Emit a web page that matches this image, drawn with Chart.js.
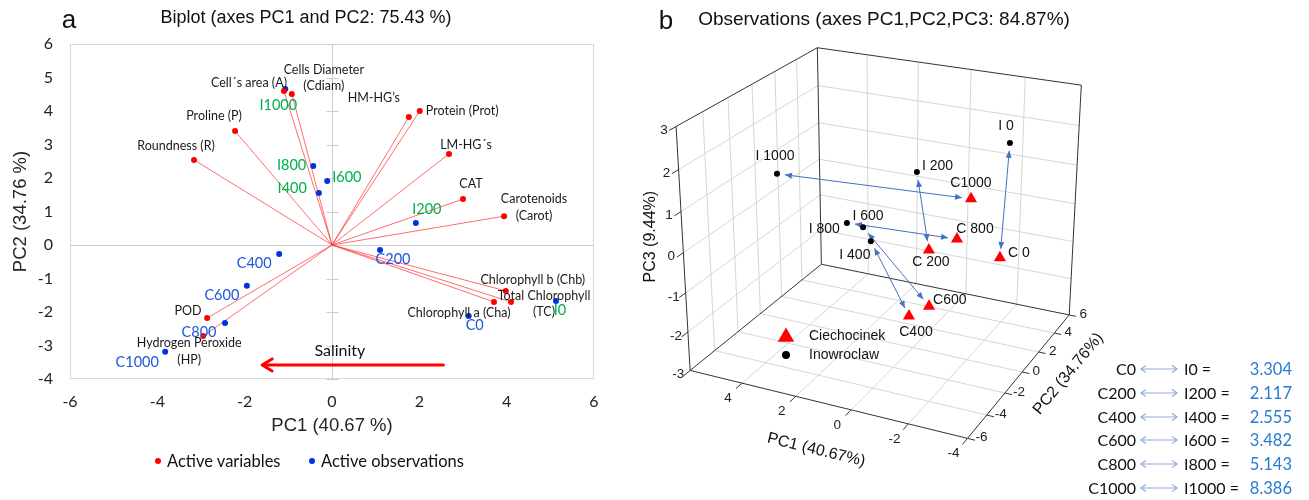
<!DOCTYPE html>
<html>
<head>
<meta charset="utf-8">
<script src="https://cdn.jsdelivr.net/npm/chart.js@4.4.1/dist/chart.umd.min.js"></script>
<style>
  html, body { margin: 0; padding: 0; background: #fff; }
  #page { position: relative; width: 1309px; height: 500px; overflow: hidden; font-family: Lato, 'Noto Sans', sans-serif; color: #111; }
  .abs { position: absolute; white-space: nowrap; line-height: 1; }
  .c { transform: translate(-50%, -50%); }
  .lm { transform: translate(0, -50%); }
  .rm { transform: translate(-100%, -50%); }
  .dot { position: absolute; width: 6px; height: 6px; border-radius: 50%; transform: translate(-50%, -50%); }
</style>
</head>
<body>
<div id="page">
  <div class="abs" style="left:0;top:0;width:640px;height:500px"><canvas id="biplot"></canvas></div>
  <div class="abs" style="left:640px;top:0;width:669px;height:500px"><canvas id="obs3d"></canvas></div>

  <div class="abs c" style="left:69px;top:19px;font:26px 'Liberation Sans',Arial,sans-serif">a</div>
  <div class="abs c" style="left:306px;top:17px;font:18px 'Liberation Sans',Arial,sans-serif">Biplot (axes PC1 and PC2: 75.43 %)</div>
  <div class="abs c" style="left:666px;top:20px;font:26px 'Liberation Sans',Arial,sans-serif">b</div>
  <div class="abs c" style="left:884px;top:19px;font:19px 'Liberation Sans',Arial,sans-serif">Observations (axes PC1,PC2,PC3: 84.87%)</div>

  <div id="legendA" style="font-size:16.5px"></div>
  <div id="dist" style="font-size:16px"></div>
</div>

<script>
// ---------- panel a : biplot PC1 / PC2
const varNames = ['Cell´s area (A)', 'Cells Diameter\n(Cdiam)', 'Proline (P)', 'Roundness (R)', 'HM-HG’s',
  'Protein (Prot)', 'LM-HG´s', 'CAT', 'Carotenoids\n(Carot)', 'Chlorophyll b (Chb)',
  'Total Chlorophyll\n(TC)', 'Chlorophyll a (Cha)', 'POD', 'Hydrogen Peroxide\n(HP)'];
const varPC1 = [-1.10, -0.92, -2.22, -3.16, 1.76, 2.01, 2.68, 3.00, 3.94, 3.98, 4.10, 3.71, -2.86, -2.95];
const varPC2 = [4.60, 4.51, 3.40, 2.54, 3.82, 4.00, 2.72, 1.37, 0.86, -1.37, -1.70, -1.70, -2.18, -2.72];

const obsNames = ['C0', 'C200', 'C400', 'C600', 'C800', 'C1000', 'I0', 'I200', 'I400', 'I600', 'I800', 'I1000'];
const obsPC1 = [3.13, 1.10, -1.21, -1.95, -2.45, -3.82, 5.13, 1.92, -0.30, -0.11, -0.43, -1.07];
const obsPC2 = [-2.12, -0.15, -0.27, -1.22, -2.33, -3.19, -1.67, 0.66, 1.55, 1.91, 2.36, 4.66];

const salinityPC1 = [2.55, -1.60];   // arrow tail -> head
const salinityPC2 = -3.58;

// ---------- panel b : observations PC1 / PC2 / PC3
const pc1Range = [-4, 6];
const pc2Range = [-6, 6];
const pc3Range = [-3, 3];
const pc1TickLabels = [4, 2, 0, -2, -4];
const pc2TickLabels = [-6, -4, -2, 0, 2, 4, 6];
const pc3TickLabels = [-3, -2, -1, 0, 1, 2, 3];

const ciechNames = ['C 0', 'C 200', 'C400', 'C600', 'C 800', 'C1000'];
const ciechPC1 = [-3.08, -0.56, 0.15, -0.59, -1.56, -2.02];
const ciechPC2 = [0, 0, 0, 0, 0, 0];
const ciechPC3 = [-0.22, -0.37, -2.18, -1.81, 0.04, 1.09];

const inowNames = ['I 0', 'I 200', 'I 400', 'I 600', 'I 800', 'I 1000'];
const inowPC1 = [-3.29, -0.10, 1.58, 1.87, 2.48, 5.14];
const inowPC2 = [0, 0, 0, 0, 0, 0];
const inowPC3 = [2.57, 1.51, -0.43, -0.11, -0.08, 0.85];

const pairC = ['C0', 'C200', 'C400', 'C600', 'C800', 'C1000'];
const pairI = ['I0', 'I200', 'I400', 'I600', 'I800', 'I1000'];
const pairDistance = [3.304, 2.117, 2.555, 3.482, 5.143, 8.386];

// ---------- styles
const RED = '#FF0000', BLUE = '#0033E0', GREEN = '#00B050', CBLUE = '#1F56E0';

// [align, dx, dy] in pixels from the point
const varLabelPos = {
  'Cell´s area (A)': ['right', 3, -8], 'Cells Diameter\n(Cdiam)': ['center', 32, -24],
  'Proline (P)': ['center', -21, -15], 'Roundness (R)': ['center', -18, -14],
  'HM-HG’s': ['center', -35, -19], 'Protein (Prot)': ['left', 6, 0],
  'LM-HG´s': ['center', 17, -9], 'CAT': ['center', 8, -15],
  'Carotenoids\n(Carot)': ['center', 30, -17], 'Chlorophyll b (Chb)': ['center', 27, -11],
  'Total Chlorophyll\n(TC)': ['center', 33, -6], 'Chlorophyll a (Cha)': ['center', -35, 11],
  'POD': ['center', -19, -7], 'Hydrogen Peroxide\n(HP)': ['center', -14, 7]
};
const obsLabelPos = {
  C0: ['center', 6, 9], C200: ['center', 13, 9], C400: ['center', -25, 9], C600: ['center', -25, 9],
  C800: ['center', -26, 9], C1000: ['center', -28, 10], I0: ['center', 4, 9], I200: ['center', 11, -14],
  I400: ['right', -12, -5], I600: ['left', 5, -4], I800: ['right', -7, -1], I1000: ['center', -7, 16]
};
const label3dPos = {
  'I 0': ['center', -4, -17], 'I 200': ['left', 5, -6], 'I 400': ['center', -16, 14],
  'I 600': ['center', 5, -11], 'I 800': ['right', -7, 6], 'I 1000': ['center', -2, -18],
  'C 0': ['left', 8, -5], 'C 200': ['center', 2, 12], 'C400': ['center', 7, 16],
  'C600': ['left', 4, -6], 'C 800': ['center', 18, -10], 'C1000': ['center', 0, -16]
};

function drawLabel(ctx, text, x, y, align, lh) {
  ctx.textAlign = align;
  ctx.textBaseline = 'middle';
  text.split('\n').forEach((t, k) => ctx.fillText(t, x, y + k * lh));
}
function seg(ctx, a, b) {
  ctx.beginPath(); ctx.moveTo(a[0], a[1]); ctx.lineTo(b[0], b[1]); ctx.stroke();
}

// ---------- panel a plugin
const biplotDecor = {
  id: 'biplotDecor',
  beforeDatasetsDraw(chart) {
    const { ctx, chartArea: a, scales: { x, y } } = chart;
    ctx.save();
    ctx.lineWidth = 1;
    ctx.strokeStyle = '#D9D9D9';
    ctx.strokeRect(a.left + 0.5, a.top + 0.5, a.width - 1, a.height - 1);
    const x0 = Math.round(x.getPixelForValue(0)) + 0.5;
    const y0 = Math.round(y.getPixelForValue(0)) + 0.5;
    ctx.strokeStyle = '#CCCCCC';
    seg(ctx, [a.left, y0], [a.right, y0]);
    seg(ctx, [x0, a.top], [x0, a.bottom]);
    for (let v = y.min; v <= y.max; v++) {
      const py = Math.round(y.getPixelForValue(v)) + 0.5;
      seg(ctx, [x0 - 6, py], [x0 + 6, py]);
    }
    // variable vectors
    ctx.strokeStyle = 'rgba(255,60,60,0.75)';
    varPC1.forEach((v, i) => seg(ctx, [x.getPixelForValue(0), y.getPixelForValue(0)],
      [x.getPixelForValue(v), y.getPixelForValue(varPC2[i])]));
    ctx.restore();
  },
  afterDatasetsDraw(chart) {
    const { ctx, scales: { x, y } } = chart;
    ctx.save();
    // salinity arrow
    const ya = y.getPixelForValue(salinityPC2);
    const xt = x.getPixelForValue(salinityPC1[0]), xh = x.getPixelForValue(salinityPC1[1]);
    ctx.strokeStyle = RED; ctx.lineWidth = 3; ctx.lineCap = 'round'; ctx.lineJoin = 'round';
    seg(ctx, [xt, ya], [xh + 2, ya]);
    ctx.beginPath(); ctx.moveTo(xh + 10, ya - 6); ctx.lineTo(xh, ya); ctx.lineTo(xh + 10, ya + 6); ctx.stroke();
    ctx.fillStyle = '#111'; ctx.font = '16px Lato';
    drawLabel(ctx, 'Salinity', x.getPixelForValue(0.18), y.getPixelForValue(-3.16), 'center', 16);

    ctx.font = '12.5px Lato'; ctx.fillStyle = '#1a1a1a';
    chart.getDatasetMeta(0).data.forEach((pt, i) => {
      const [al, dx, dy] = varLabelPos[varNames[i]];
      drawLabel(ctx, varNames[i], pt.x + dx, pt.y + dy, al, 16.5);
    });
    ctx.font = '14.5px Lato';
    chart.getDatasetMeta(1).data.forEach((pt, i) => {
      const n = obsNames[i];
      const [al, dx, dy] = obsLabelPos[n];
      ctx.fillStyle = n[0] === 'I' ? GREEN : CBLUE;
      drawLabel(ctx, n, pt.x + dx, pt.y + dy, al, 16);
    });
    ctx.restore();
  }
};

new Chart(document.getElementById('biplot'), {
  type: 'scatter',
  data: {
    datasets: [
      { label: 'Active variables', data: varPC1.map((v, i) => ({ x: v, y: varPC2[i] })),
        backgroundColor: RED, borderColor: RED, pointRadius: 3, pointBorderWidth: 0 },
      { label: 'Active observations', data: obsPC1.map((v, i) => ({ x: v, y: obsPC2[i] })),
        backgroundColor: BLUE, borderColor: BLUE, pointRadius: 3, pointBorderWidth: 0 }
    ]
  },
  options: {
    responsive: true, maintainAspectRatio: false, animation: false,
    layout: { padding: { left: 0, top: 44, right: 46, bottom: 0 }, autoPadding: false },
    plugins: { legend: { display: false }, tooltip: { enabled: false } },
    scales: {
      x: {
        type: 'linear', min: -6, max: 6,
        ticks: { stepSize: 2, padding: 13, color: '#222', font: { family: 'Lato', size: 16 } },
        grid: { display: false, drawTicks: false }, border: { display: false },
        title: { display: true, text: 'PC1 (40.67 %)', color: '#262626',
          font: { family: 'Liberation Sans', size: 18.5 }, padding: { top: 0, bottom: 63 } },
        afterFit(s) { s.height = 121; }
      },
      y: {
        type: 'linear', min: -4, max: 6,
        ticks: { stepSize: 1, padding: 17, color: '#222', font: { family: 'Lato', size: 16 } },
        grid: { display: false, drawTicks: false }, border: { display: false },
        title: { display: true, text: 'PC2 (34.76 %)', color: '#262626',
          font: { family: 'Liberation Sans', size: 18.5 }, padding: { top: 10, bottom: 0 } },
        afterFit(s) { s.width = 70; }
      }
    }
  },
  plugins: [biplotDecor]
});

// ---------- panel b : perspective view of the PC1/PC2/PC3 box
const W3 = 669, H3 = 500;
const view = { azim: -25.6, elev: 23.4, dist: 11, aspect: [1.07, 1, 0.92], cx: 246.4, cy: 227.3, k: 140 };

function project(p1, p2, p3) {
  const th = view.azim * Math.PI / 180, ph = view.elev * Math.PI / 180;
  const xw = -(p1 - (pc1Range[0] + pc1Range[1]) / 2) / ((pc1Range[1] - pc1Range[0]) / 2) * view.aspect[0];
  const yw = (p2 - (pc2Range[0] + pc2Range[1]) / 2) / ((pc2Range[1] - pc2Range[0]) / 2) * view.aspect[1];
  const zw = (p3 - (pc3Range[0] + pc3Range[1]) / 2) / ((pc3Range[1] - pc3Range[0]) / 2) * view.aspect[2];
  const xr = xw * Math.cos(th) - yw * Math.sin(th);
  const yr = xw * Math.sin(th) + yw * Math.cos(th);
  const up = zw * Math.cos(ph) + yr * Math.sin(ph);
  const d = yr * Math.cos(ph) - zw * Math.sin(ph);
  const s = view.dist / (view.dist + d);
  return { x: xr * s, y: up * s };
}

function between(r, step) {
  const out = [];
  for (let v = r[0] + step; v < r[1] - 1e-9; v += step) out.push(v);
  return out;
}

function arrowHead(ctx, tip, ux, uy) {
  const len = 7, w = 3;
  ctx.beginPath();
  ctx.moveTo(tip[0], tip[1]);
  ctx.lineTo(tip[0] - ux * len - uy * w, tip[1] - uy * len + ux * w);
  ctx.lineTo(tip[0] - ux * len + uy * w, tip[1] - uy * len - ux * w);
  ctx.closePath(); ctx.fill();
}

function triangle(ctx, x, y, r) {
  ctx.beginPath();
  for (let k = 0; k < 3; k++) {
    const a = k * 2 * Math.PI / 3;
    const px = x + Math.sin(a) * r, py = y - Math.cos(a) * r;
    k ? ctx.lineTo(px, py) : ctx.moveTo(px, py);
  }
  ctx.closePath(); ctx.fill();
}

const box3d = {
  id: 'box3d',
  beforeDatasetsDraw(chart) {
    const { ctx, scales: { x, y } } = chart;
    const P = (a, b, c) => { const p = project(a, b, c); return [x.getPixelForValue(p.x), y.getPixelForValue(p.y)]; };
    const [a0, a1] = pc1Range, [b0, b1] = pc2Range, [c0, c1] = pc3Range;
    ctx.save();
    ctx.lineWidth = 1;
    // grid: floor (PC3 min), left wall (PC1 max), back wall (PC2 max)
    ctx.strokeStyle = '#D6D6D6';
    between(pc1Range, 2).forEach(t => { seg(ctx, P(t, b0, c0), P(t, b1, c0)); seg(ctx, P(t, b1, c0), P(t, b1, c1)); });
    between(pc2Range, 2).forEach(t => { seg(ctx, P(a0, t, c0), P(a1, t, c0)); seg(ctx, P(a1, t, c0), P(a1, t, c1)); });
    between(pc3Range, 1).forEach(t => { seg(ctx, P(a1, b0, t), P(a1, b1, t)); seg(ctx, P(a1, b1, t), P(a0, b1, t)); });
    // box edges
    ctx.strokeStyle = '#333';
    [[P(a1, b0, c0), P(a0, b0, c0)], [P(a0, b0, c0), P(a0, b1, c0)], [P(a0, b1, c0), P(a1, b1, c0)],
     [P(a1, b1, c0), P(a1, b0, c0)], [P(a1, b0, c0), P(a1, b0, c1)], [P(a1, b0, c1), P(a1, b1, c1)],
     [P(a1, b1, c1), P(a1, b1, c0)], [P(a1, b1, c1), P(a0, b1, c1)], [P(a0, b1, c1), P(a0, b1, c0)]]
      .forEach(e => seg(ctx, e[0], e[1]));
    // ticks and tick labels
    ctx.fillStyle = '#222'; ctx.font = '13.5px "Liberation Sans", Arial';
    pc1TickLabels.forEach(t => {
      const p = P(t, b0, c0); seg(ctx, p, P(t, b0 - 0.5, c0));
      drawLabel(ctx, String(t), p[0] - 14, p[1] + 15, 'center', 14);
    });
    pc2TickLabels.forEach(t => {
      const p = P(a0, t, c0); seg(ctx, p, P(a0 - 0.25, t, c0));
      drawLabel(ctx, String(t), p[0] + 14, p[1] - 1, 'center', 14);
    });
    pc3TickLabels.forEach(t => {
      const p = P(a1, b0, t); seg(ctx, p, P(a1, b0 - 0.5, t));
      drawLabel(ctx, String(t), p[0] - 12, p[1] + 4, 'center', 14);
    });
    // axis titles
    ctx.font = '16px "Liberation Sans", Arial'; ctx.fillStyle = '#111';
    const title = (txt, px, py, ang) => {
      ctx.save(); ctx.translate(px, py); ctx.rotate(ang);
      drawLabel(ctx, txt, 0, 0, 'center', 16); ctx.restore();
    };
    let e0 = P(a1, b0, c0), e1 = P(a0, b0, c0), m = P((a0 + a1) / 2, b0, c0);
    title('PC1 (40.67%)', m[0] - 7, m[1] + 47, Math.atan2(e1[1] - e0[1], e1[0] - e0[0]));
    e0 = P(a0, b0, c0); e1 = P(a0, b1, c0); m = P(a0, (b0 + b1) / 2, c0);
    title('PC2 (34.76%)', m[0] + 46, m[1] + 2, Math.atan2(e1[1] - e0[1], e1[0] - e0[0]));
    m = P(a1, b0, (c0 + c1) / 2);
    title('PC3 (9.44%)', m[0] - 33, m[1] - 16, -Math.PI / 2);

    // double arrows C <-> I
    const cm = chart.getDatasetMeta(0).data, im = chart.getDatasetMeta(1).data;
    ctx.strokeStyle = '#4472C4'; ctx.fillStyle = '#4472C4'; ctx.lineWidth = 1;
    cm.forEach((c, i) => {
      const I = im[i];
      const dx = I.x - c.x, dy = I.y - c.y, L = Math.hypot(dx, dy), ux = dx / L, uy = dy / L;
      const s = [c.x + ux * 9, c.y + uy * 9], e = [I.x - ux * 8, I.y - uy * 8];
      seg(ctx, s, e);
      arrowHead(ctx, s, -ux, -uy);
      arrowHead(ctx, e, ux, uy);
    });
    ctx.restore();
  },
  afterDatasetsDraw(chart) {
    const { ctx } = chart;
    ctx.save();
    ctx.fillStyle = '#111'; ctx.font = '14px "Liberation Sans", Arial';
    [[0, ciechNames], [1, inowNames]].forEach(([di, names]) => {
      chart.getDatasetMeta(di).data.forEach((pt, i) => {
        const [al, dx, dy] = label3dPos[names[i]];
        drawLabel(ctx, names[i], pt.x + dx, pt.y + dy, al, 14);
      });
    });
    // legend
    ctx.fillStyle = RED; triangle(ctx, 146, 337, 9.5);
    ctx.fillStyle = '#000'; ctx.beginPath(); ctx.arc(146, 355, 4, 0, Math.PI * 2); ctx.fill();
    ctx.fillStyle = '#111'; ctx.font = '14px "Liberation Sans", Arial';
    drawLabel(ctx, chart.data.datasets[0].label, 169, 336, 'left', 14);
    drawLabel(ctx, chart.data.datasets[1].label, 169, 355, 'left', 14);
    ctx.restore();
  }
};

new Chart(document.getElementById('obs3d'), {
  type: 'scatter',
  data: {
    datasets: [
      { label: 'Ciechocinek', data: ciechPC1.map((v, i) => project(v, ciechPC2[i], ciechPC3[i])),
        pointStyle: 'triangle', pointRadius: 7, backgroundColor: RED, borderColor: RED, pointBorderWidth: 0 },
      { label: 'Inowroclaw', data: inowPC1.map((v, i) => project(v, inowPC2[i], inowPC3[i])),
        pointStyle: 'circle', pointRadius: 3, backgroundColor: '#000', borderColor: '#000', pointBorderWidth: 0 }
    ]
  },
  options: {
    responsive: true, maintainAspectRatio: false, animation: false,
    layout: { padding: 0, autoPadding: false },
    plugins: { legend: { display: false }, tooltip: { enabled: false } },
    scales: {
      x: { type: 'linear', display: false, min: -view.cx / view.k, max: (W3 - view.cx) / view.k },
      y: { type: 'linear', display: false, min: -(H3 - view.cy) / view.k, max: view.cy / view.k }
    }
  },
  plugins: [box3d]
});

// ---------- HTML legend (panel a) and distance table (panel b)
document.getElementById('legendA').innerHTML = `
  <span class="dot" style="left:158px;top:461px;background:${RED}"></span>
  <div class="abs lm" style="left:167px;top:461px">Active variables</div>
  <span class="dot" style="left:312px;top:461px;background:${BLUE}"></span>
  <div class="abs lm" style="left:321px;top:461px">Active observations</div>`;

const dist = document.getElementById('dist');
pairC.forEach((c, i) => {
  const y = 369 + i * 23.8;
  dist.insertAdjacentHTML('beforeend', `
    <div class="abs rm" style="left:1136px;top:${y}px">${c}</div>
    <svg class="abs" style="left:1139px;top:${y - 5}px" width="40" height="10">
      <g stroke="#8FAADC" stroke-width="1.2" fill="none">
        <line x1="2" y1="5" x2="38" y2="5"/>
        <polyline points="7,1.5 2,5 7,8.5"/><polyline points="33,1.5 38,5 33,8.5"/>
      </g>
    </svg>
    <div class="abs lm" style="left:1184px;top:${y}px">${pairI[i]} =</div>
    <div class="abs rm" style="left:1292px;top:${y}px;color:#2A7BCF;font-size:16.5px">${pairDistance[i].toFixed(3)}</div>`);
});
</script>
</body>
</html>
